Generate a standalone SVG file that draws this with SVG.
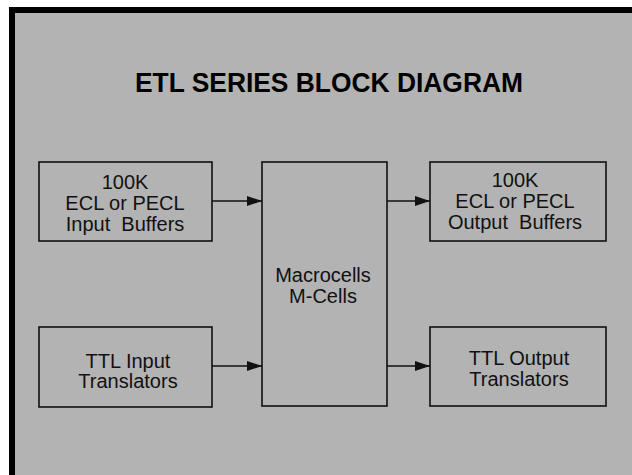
<svg xmlns="http://www.w3.org/2000/svg" width="632" height="475" viewBox="0 0 632 475">
<style>
.box{fill:none;stroke:#111;stroke-width:1.6}
.t{font-family:"Liberation Sans",Arial,sans-serif;font-size:20px;fill:#111;text-anchor:middle;white-space:pre}
.title{font-family:"Liberation Sans",Arial,sans-serif;font-size:27.5px;font-weight:bold;fill:#000;text-anchor:middle}
.c{stroke:#111;stroke-width:1.6;fill:none}
</style>
<defs>
<marker id="ah" markerUnits="userSpaceOnUse" markerWidth="16" markerHeight="10" refX="15" refY="5" orient="auto">
<path d="M0,0 L15,5 L0,10 Z" fill="#111"/>
</marker>
</defs>
<rect x="0" y="0" width="632" height="475" fill="#fff"/>
<rect x="12" y="10" width="630" height="475" fill="#b3b3b3"/>
<path d="M12,480 V10 H632" fill="none" stroke="#000" stroke-width="6"/>
<text class="title" x="329" y="92" textLength="388" lengthAdjust="spacingAndGlyphs">ETL SERIES BLOCK DIAGRAM</text>
<g id="ecl-input">
<rect class="box" x="39" y="162" width="173" height="79"/>
<text class="t" x="125" y="189">100K</text>
<text class="t" x="125" y="210">ECL or PECL</text>
<text class="t" x="125" y="231">Input  Buffers</text>
</g>
<g id="ttl-input">
<rect class="box" x="39" y="327" width="173" height="80"/>
<text class="t" x="128" y="368">TTL Input</text>
<text class="t" x="128" y="388">Translators</text>
</g>
<g id="macrocells">
<rect class="box" x="262" y="162" width="125" height="244"/>
<text class="t" x="323" y="282">Macrocells</text>
<text class="t" x="323" y="303">M-Cells</text>
</g>
<g id="ecl-output">
<rect class="box" x="430" y="162" width="176" height="79"/>
<text class="t" x="515" y="187">100K</text>
<text class="t" x="515" y="208">ECL or PECL</text>
<text class="t" x="515" y="229">Output  Buffers</text>
</g>
<g id="ttl-output">
<rect class="box" x="430" y="327" width="176" height="79"/>
<text class="t" x="519" y="365">TTL Output</text>
<text class="t" x="519" y="386">Translators</text>
</g>
<g id="connectors">
<line class="c" x1="212" y1="201" x2="262" y2="201" marker-end="url(#ah)"/>
<line class="c" x1="212" y1="366" x2="262" y2="366" marker-end="url(#ah)"/>
<line class="c" x1="387" y1="201" x2="430" y2="201" marker-end="url(#ah)"/>
<line class="c" x1="387" y1="366" x2="430" y2="366" marker-end="url(#ah)"/>
</g>
</svg>
